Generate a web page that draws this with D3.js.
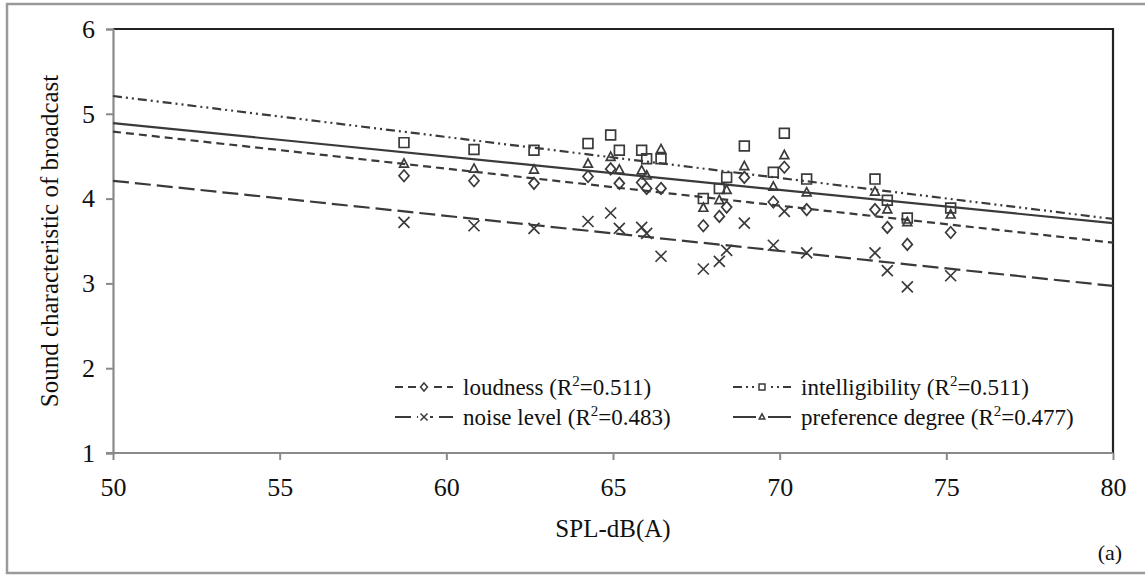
<!DOCTYPE html>
<html>
<head>
<meta charset="utf-8">
<script src="https://cdnjs.cloudflare.com/ajax/libs/d3/7.8.5/d3.min.js"></script>
<style>
  body { margin: 0; background: #fff; }
  text { font-family: "Liberation Serif", "Times New Roman", serif; fill: #111; }
</style>
</head>
<body>
<div id="plot"></div>
<script>
// ---- data ----
var spl = [58.73, 60.83, 62.63, 64.25, 64.93, 65.19, 65.86, 66.01, 66.44, 67.71,
           68.19, 68.41, 68.94, 69.81, 70.14, 70.81, 72.86, 73.23, 73.83, 75.13];
var loudness = [4.27, 4.21, 4.18, 4.26, 4.35, 4.18, 4.19, 4.12, 4.12, 3.68,
                3.79, 3.90, 4.25, 3.96, 4.37, 3.87, 3.87, 3.66, 3.46, 3.60];
var intelligibility = [4.66, 4.58, 4.57, 4.65, 4.75, 4.57, 4.57, 4.47, 4.47, 4.00,
                       4.12, 4.25, 4.62, 4.31, 4.77, 4.23, 4.23, 3.98, 3.77, 3.89];
var noise = [3.72, 3.68, 3.65, 3.73, 3.83, 3.65, 3.66, 3.59, 3.32, 3.17,
             3.26, 3.39, 3.71, 3.45, 3.85, 3.36, 3.36, 3.15, 2.96, 3.09];
var preference = [4.41, 4.35, 4.34, 4.41, 4.49, 4.34, 4.33, 4.27, 4.58, 3.89,
                  3.98, 4.10, 4.38, 4.14, 4.51, 4.07, 4.08, 3.87, 3.72, 3.81];

// linear trend lines: value at SPL 50 and at SPL 80
var trendX = [50, 80];
var loudnessTrend = [4.79, 3.48];
var intelligibilityTrend = [5.21, 3.76];
var noiseTrend = [4.21, 2.97];
var preferenceTrend = [4.89, 3.71];

var xTicks = [50, 55, 60, 65, 70, 75, 80];
var yTicks = [1, 2, 3, 4, 5, 6];
var seriesNames = ["loudness", "intelligibility", "noise level", "preference degree"];
var rSquared = ["0.511", "0.511", "0.483", "0.477"];

// ---- workspace ----
var svgWidth = 1145, svgHeight = 575;
var margin = { top: 29, right: 32, bottom: 122, left: 113 };
var width = svgWidth - margin.left - margin.right;
var height = svgHeight - margin.top - margin.bottom;

var svg = d3.select("#plot").append("svg")
    .attr("width", svgWidth)
    .attr("height", svgHeight);

// outer frame of the figure
svg.append("rect")
    .attr("x", 7).attr("y", 4)
    .attr("width", 1145).attr("height", 569)
    .attr("fill", "none")
    .attr("stroke", "#9a9a9a")
    .attr("stroke-width", 2.5);

var chartGroup = svg.append("g")
    .attr("transform", `translate(${margin.left}, ${margin.top})`);

// ---- scales ----
var xScale = d3.scaleLinear().domain([50, 80]).range([0, width]);
var yScale = d3.scaleLinear().domain([1, 6]).range([height, 0]);

// top and right border of plot area
chartGroup.append("path")
    .attr("d", `M0,0H${width}V${height}`)
    .attr("fill", "none")
    .attr("stroke", "#222")
    .attr("stroke-width", 2.2);

// axes
var leftAxis = d3.axisLeft(yScale).tickValues(yTicks).tickSize(7).tickPadding(11).tickFormat(d3.format("d"));
var bottomAxis = d3.axisBottom(xScale).tickValues(xTicks).tickSize(7).tickPadding(18).tickFormat(d3.format("d"));

var yAxisG = chartGroup.append("g").call(leftAxis);
var xAxisG = chartGroup.append("g")
    .attr("transform", `translate(0, ${height})`)
    .call(bottomAxis);

[yAxisG, xAxisG].forEach(function (g) {
    g.select(".domain").attr("stroke", "#8a8a8a").attr("stroke-width", 2.2);
    g.selectAll(".tick line").attr("stroke", "#8a8a8a").attr("stroke-width", 2);
    g.selectAll(".tick text")
        .attr("font-family", "Liberation Serif, Times New Roman, serif")
        .attr("font-size", "26px")
        .attr("fill", "#111");
});
// x axis origin crosses a little to the left
xAxisG.select(".domain").attr("d", `M-7,0H${width}`);

// ---- marker shapes ----
function markerPath(kind, s) {
    var h = s / 2;
    if (kind === "diamond") return `M0,${-h * 1.15}L${h},0L0,${h * 1.15}L${-h},0Z`;
    if (kind === "square") return `M${-h * 0.85},${-h * 0.85}H${h * 0.85}V${h * 0.85}H${-h * 0.85}Z`;
    if (kind === "triangle") return `M0,${-h * 0.9}L${h * 0.8},${h * 0.6}L${-h * 0.8},${h * 0.6}Z`;
    return `M${-h},${-h}L${h},${h}M${h},${-h}L${-h},${h}`;
}
var markerSize = { diamond: 10, square: 11.5, triangle: 11, x: 11 };

var series = [
    { name: seriesNames[0], r2: rSquared[0], values: loudness, trend: loudnessTrend, marker: "diamond", dash: "8,5" },
    { name: seriesNames[1], r2: rSquared[1], values: intelligibility, trend: intelligibilityTrend, marker: "square", dash: "9,4,2,4,2,4" },
    { name: seriesNames[2], r2: rSquared[2], values: noise, trend: noiseTrend, marker: "x", dash: "16,6" },
    { name: seriesNames[3], r2: rSquared[3], values: preference, trend: preferenceTrend, marker: "triangle", dash: null }
];

var color = "#3a3a3a";
var line = d3.line().x(d => xScale(d[0])).y(d => yScale(d[1]));

// trend lines
series.forEach(function (s) {
    chartGroup.append("path")
        .datum(trendX.map((x, i) => [x, s.trend[i]]))
        .attr("d", line)
        .attr("fill", "none")
        .attr("stroke", color)
        .attr("stroke-width", 2.2)
        .attr("stroke-dasharray", s.dash);
});

// points
series.forEach(function (s) {
    chartGroup.selectAll(null)
        .data(spl.map((x, i) => [x, s.values[i]]))
        .enter()
        .append("path")
        .attr("transform", d => `translate(${xScale(d[0])}, ${yScale(d[1])})`)
        .attr("d", markerPath(s.marker, markerSize[s.marker]))
        .attr("fill", "none")
        .attr("stroke", color)
        .attr("stroke-width", 1.7);
});

// ---- legend ----
var legendCols = [282, 620];
var legendRows = [358, 388];
series.forEach(function (s, i) {
    var lx = legendCols[i % 2], ly = legendRows[Math.floor(i / 2)];
    var g = chartGroup.append("g").attr("transform", `translate(${lx}, ${ly})`);
    g.append("line")
        .attr("x1", 0).attr("x2", 58)
        .attr("stroke", color)
        .attr("stroke-width", 2)
        .attr("stroke-dasharray", s.dash);
    g.append("rect").attr("x", 23).attr("y", -6).attr("width", 12).attr("height", 12).attr("fill", "#fff");
    g.append("path")
        .attr("transform", "translate(29,0)")
        .attr("d", markerPath(s.marker, 7))
        .attr("fill", "none")
        .attr("stroke", color)
        .attr("stroke-width", 1.5);
    var t = g.append("text")
        .attr("x", 68).attr("y", 8)
        .attr("font-size", "23px");
    t.append("tspan").text(s.name + " (R");
    t.append("tspan").attr("font-size", "15px").attr("dy", -9).text("2");
    t.append("tspan").attr("dy", 9).text("=" + s.r2 + ")");
});

// ---- titles ----
chartGroup.append("text")
    .attr("transform", `translate(${width / 2}, ${height + 84})`)
    .attr("text-anchor", "middle")
    .attr("font-size", "25px")
    .text("SPL-dB(A)");

chartGroup.append("text")
    .attr("transform", "rotate(-90)")
    .attr("x", 0 - height / 2)
    .attr("y", 0 - margin.left + 58)
    .attr("text-anchor", "middle")
    .attr("font-size", "25px")
    .text("Sound characteristic of broadcast");

svg.append("text")
    .attr("x", 1110).attr("y", 560)
    .attr("text-anchor", "middle")
    .attr("font-size", "22px")
    .text("(a)");
</script>
</body>
</html>
